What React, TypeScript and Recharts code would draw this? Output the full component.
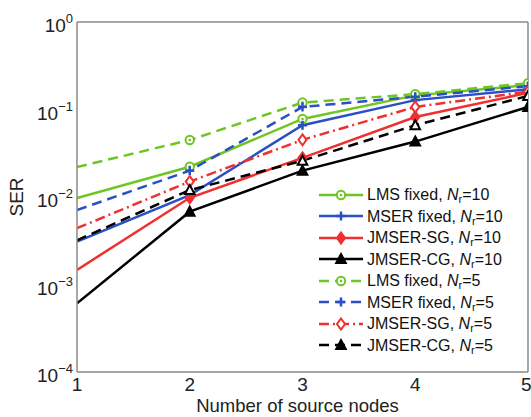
import React from "react";
import { LineChart, Line, XAxis, YAxis, Legend } from "recharts";

// Number of source nodes vs SER, two relay counts (Nr = 10, Nr = 5)
const nodes = [1, 2, 3, 4, 5];

const lmsFixed10 = [0.0097, 0.0222, 0.078, 0.145, 0.19];
const mserFixed10 = [0.0031, 0.0105, 0.066, 0.128, 0.17];
const jmserSg10 = [0.00147, 0.0098, 0.028, 0.082, 0.155];
const jmserCg10 = [0.00061, 0.0068, 0.02, 0.043, 0.107];
const lmsFixed5 = [0.022, 0.0448, 0.12, 0.15, 0.2];
const mserFixed5 = [0.0071, 0.02, 0.107, 0.14, 0.185];
const jmserSg5 = [0.0044, 0.015, 0.045, 0.107, 0.16];
const jmserCg5 = [0.0032, 0.012, 0.026, 0.066, 0.143];

const xTicks = [1, 2, 3, 4, 5];
const innerXTicks = [2, 3, 4];
const yTicks = [1e-4, 1e-3, 1e-2, 1e-1, 1];
const yExponents = ["−4", "−3", "−2", "−1", "0"];

// minor log ticks 2..9 in each decade (axis decoration only)
const yMinorTicks: number[] = [];
for (const d of yTicks.slice(0, 4)) {
  for (let m = 1; m < 10; m++) yMinorTicks.push(d * m);
}
yMinorTicks.push(1);

const GREEN = "#6ec622";
const BLUE = "#2b4fc4";
const RED = "#ee3030";
const BLACK = "#000000";
const FRAME = "#8a8a8a";
const FONT = "'Liberation Sans', Arial, sans-serif";

type Marker = "circle" | "plus" | "diamond" | "triangle";

interface SeriesDef {
  key: string;
  name: string;
  nr: string;
  color: string;
  dash?: string;
  marker: Marker;
  filled: boolean;
  values: number[];
}

const SERIES: SeriesDef[] = [
  { key: "lms10", name: "LMS fixed, ", nr: "10", color: GREEN, marker: "circle", filled: false, values: lmsFixed10 },
  { key: "mser10", name: "MSER fixed, ", nr: "10", color: BLUE, marker: "plus", filled: true, values: mserFixed10 },
  { key: "sg10", name: "JMSER-SG, ", nr: "10", color: RED, marker: "diamond", filled: true, values: jmserSg10 },
  { key: "cg10", name: "JMSER-CG, ", nr: "10", color: BLACK, marker: "triangle", filled: true, values: jmserCg10 },
  { key: "lms5", name: "LMS fixed, ", nr: "5", color: GREEN, dash: "10 6", marker: "circle", filled: false, values: lmsFixed5 },
  { key: "mser5", name: "MSER fixed, ", nr: "5", color: BLUE, dash: "10 6", marker: "plus", filled: true, values: mserFixed5 },
  { key: "sg5", name: "JMSER-SG, ", nr: "5", color: RED, dash: "10 4 2 4", marker: "diamond", filled: false, values: jmserSg5 },
  { key: "cg5", name: "JMSER-CG, ", nr: "5", color: BLACK, dash: "10 6", marker: "triangle", filled: false, values: jmserCg5 },
];

const data = nodes.map((n, i) => {
  const row: Record<string, number> = { n };
  SERIES.forEach((s) => (row[s.key] = s.values[i]));
  return row;
});

function MarkerShape({ cx, cy, kind, color, filled }: { cx: number; cy: number; kind: Marker; color: string; filled: boolean }) {
  if (cx == null || cy == null) return null;
  switch (kind) {
    case "circle":
      return (
        <g>
          <circle cx={cx} cy={cy} r={4.2} fill="#ffffff" stroke={color} strokeWidth={2} />
          <circle cx={cx} cy={cy} r={1.3} fill={color} />
        </g>
      );
    case "plus":
      return (
        <g stroke={color} strokeWidth={2.5}>
          <line x1={cx - 4.5} y1={cy} x2={cx + 4.5} y2={cy} />
          <line x1={cx} y1={cy - 4.5} x2={cx} y2={cy + 4.5} />
        </g>
      );
    case "diamond":
      return (
        <polygon
          points={`${cx},${cy - 5.5} ${cx + 4},${cy} ${cx},${cy + 5.5} ${cx - 4},${cy}`}
          fill={filled ? color : "#ffffff"}
          stroke={color}
          strokeWidth={2}
        />
      );
    default:
      return (
        <polygon
          points={`${cx},${cy - 5} ${cx + 4.8},${cy + 4} ${cx - 4.8},${cy + 4}`}
          fill={filled ? color : "#ffffff"}
          stroke={color}
          strokeWidth={2}
        />
      );
  }
}

function YTick(props: any) {
  const { x, y, payload } = props;
  const idx = yTicks.findIndex((t) => Math.abs(Math.log10(t) - Math.log10(payload.value)) < 1e-6);
  return (
    <text x={x} y={y + 10} textAnchor="end" fontFamily={FONT} fontSize={19} fill="#222">
      10
      <tspan dy={-9} fontSize={13}>
        {yExponents[idx]}
      </tspan>
    </text>
  );
}

function LegendBox() {
  return (
    <div
      style={{
        background: "#ffffff",
        fontFamily: FONT,
        fontSize: 16,
        color: "#111",
        padding: "0 4px 0 2px",
      }}
    >
      {SERIES.map((s) => (
        <div key={s.key} style={{ display: "flex", alignItems: "center", height: 21.5 }}>
          <svg width={46} height={16} style={{ marginRight: 3 }}>
            <line x1={1} y1={8} x2={45} y2={8} stroke={s.color} strokeWidth={2.5} strokeDasharray={s.dash} />
            <MarkerShape cx={23} cy={8} kind={s.marker} color={s.color} filled={s.marker === "triangle" ? true : s.filled} />
          </svg>
          <span style={{ whiteSpace: "nowrap", lineHeight: "21px" }}>
            {s.name}
            <i>N</i>
            <sub style={{ fontSize: 11, verticalAlign: "-3px", lineHeight: 0 }}>r</sub>={s.nr}
          </span>
        </div>
      ))}
    </div>
  );
}

export default function App() {
  return (
    <div style={{ position: "absolute", left: 0, top: 0, background: "#ffffff" }}>
      <LineChart width={531} height={417} data={data} margin={{ top: 22, right: 3, bottom: 0, left: 0 }}>
        <XAxis
          xAxisId="main"
          dataKey="n"
          type="number"
          domain={[1, 5]}
          ticks={xTicks}
          allowDataOverflow
          height={45}
          tickLine={false}
          tickSize={0}
          tickMargin={6}
          axisLine={{ stroke: FRAME, strokeWidth: 1.5 }}
          tick={{ fontFamily: FONT, fontSize: 19, fill: "#222" }}
          label={{
            value: "Number of source nodes",
            position: "insideBottom",
            offset: 5,
            fontFamily: FONT,
            fontSize: 18.5,
            fill: "#222",
            dx: -5,
          }}
        />
        <XAxis
          xAxisId="bottomTicks"
          dataKey="n"
          type="number"
          domain={[1, 5]}
          ticks={innerXTicks}
          allowDataOverflow
          mirror
          tick={false}
          tickSize={5}
          axisLine={false}
          stroke={FRAME}
        />
        <XAxis
          xAxisId="top"
          orientation="top"
          dataKey="n"
          type="number"
          domain={[1, 5]}
          ticks={innerXTicks}
          allowDataOverflow
          mirror
          tick={false}
          tickSize={5}
          axisLine={{ stroke: FRAME, strokeWidth: 1.5 }}
          stroke={FRAME}
        />
        <YAxis
          yAxisId="main"
          scale="log"
          domain={[1e-4, 1]}
          ticks={yTicks}
          allowDataOverflow
          width={77}
          tickLine={false}
          tickSize={0}
          tickMargin={4}
          axisLine={{ stroke: FRAME, strokeWidth: 1.5 }}
          tick={<YTick />}
          label={{
            value: "SER",
            angle: -90,
            position: "insideLeft",
            offset: 16,
            fontFamily: FONT,
            fontSize: 19,
            fill: "#222",
            style: { textAnchor: "middle" },
          }}
        />
        <YAxis
          yAxisId="leftTicks"
          scale="log"
          domain={[1e-4, 1]}
          ticks={yMinorTicks}
          allowDataOverflow
          mirror
          tick={false}
          tickSize={4}
          axisLine={false}
          stroke={FRAME}
        />
        <YAxis
          yAxisId="right"
          orientation="right"
          scale="log"
          domain={[1e-4, 1]}
          ticks={yMinorTicks}
          allowDataOverflow
          mirror
          tick={false}
          tickSize={4}
          axisLine={{ stroke: FRAME, strokeWidth: 1.5 }}
          stroke={FRAME}
        />
        <Legend
          layout="vertical"
          align="center"
          verticalAlign="middle"
          wrapperStyle={{ position: "absolute", top: 184, left: 316, width: "auto" }}
          content={<LegendBox />}
        />
        {SERIES.map((s) => (
          <Line
            key={s.key}
            xAxisId="main"
            yAxisId="main"
            dataKey={s.key}
            type="linear"
            stroke={s.color}
            strokeWidth={2.5}
            strokeDasharray={s.dash}
            isAnimationActive={false}
            legendType="none"
            dot={(p: any) =>
              p.index === 0 ? (
                <g key={`${s.key}-${p.index}`} />
              ) : (
                <MarkerShape
                  key={`${s.key}-${p.index}`}
                  cx={p.cx}
                  cy={p.cy}
                  kind={s.marker}
                  color={s.color}
                  filled={s.filled}
                />
              )
            }
            activeDot={false}
          />
        ))}
      </LineChart>
    </div>
  );
}
